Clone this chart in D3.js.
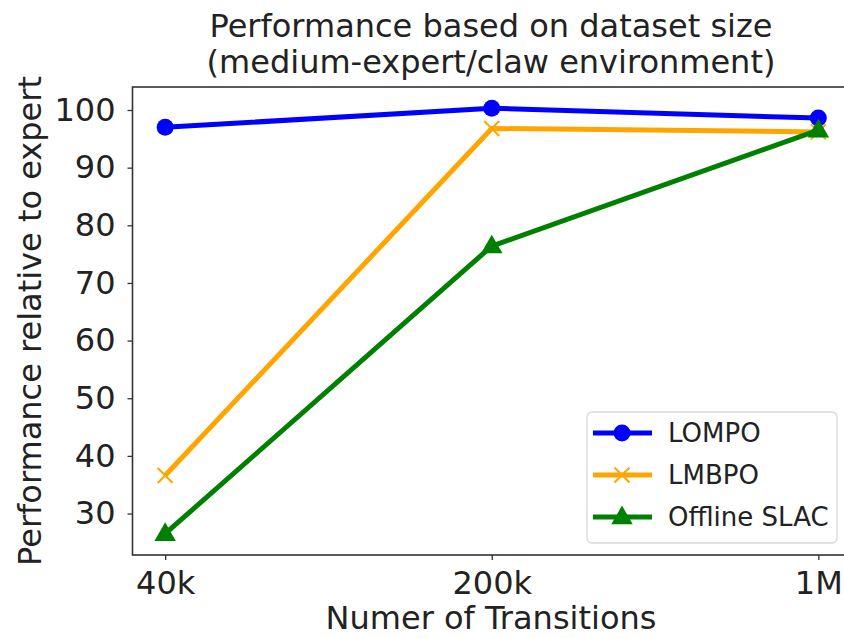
<!DOCTYPE html>
<html>
<head>
<meta charset="utf-8">
<script src="https://cdn.jsdelivr.net/npm/d3@7"></script>
<style>
  body { margin: 0; background: #fff; }
  text { font-family: "DejaVu Sans", sans-serif; fill: #222; }
</style>
</head>
<body>
<svg id="chart" width="844" height="638"></svg>
<script>
var categories = ['40k', '200k', '1M'];
var lompo = [97.0, 100.3, 98.6];
var lmbpo = [36.6, 96.8, 96.2];
var slac = [26.5, 76.4, 96.5];
var seriesNames = ['LOMPO', 'LMBPO', 'Offline SLAC'];
var yTicks = [30, 40, 50, 60, 70, 80, 90, 100];

var series = [
    { name: seriesNames[0], values: lompo, color: '#0000ff', marker: 'circle' },
    { name: seriesNames[1], values: lmbpo, color: '#ffa500', marker: 'x' },
    { name: seriesNames[2], values: slac, color: '#008000', marker: 'triangle' }
];

// plot box (right spine falls just outside the picture, as in the original)
var box = { left: 132.5, right: 851, top: 87, bottom: 555 };
var svg = d3.select('#chart');

// matplotlib style autoscale, 5% margins
var all = lompo.concat(lmbpo, slac);
var lo = d3.min(all), hi = d3.max(all), pad = (hi - lo) * 0.05;

var x = d3.scaleLinear().domain([-0.1, categories.length - 0.9]).range([box.left, box.right]);
var y = d3.scaleLinear().domain([lo - pad, hi + pad]).range([box.bottom, box.top]);

// axes
var xAxis = d3.axisBottom(x).tickValues(d3.range(categories.length))
    .tickFormat(function(i) { return categories[i]; }).tickSizeOuter(0).tickSize(5).tickPadding(8);
var yAxis = d3.axisLeft(y).tickValues(yTicks).tickSizeOuter(0).tickSize(5).tickPadding(12);

var gx = svg.append('g').attr('transform', 'translate(0,' + box.bottom + ')').call(xAxis);
var gy = svg.append('g').attr('transform', 'translate(' + box.left + ',0)').call(yAxis);
[gx, gy].forEach(function(g) {
    g.select('.domain').remove();
    g.selectAll('line').attr('stroke', '#333').attr('stroke-width', 1.3);
    g.selectAll('text').style('font-size', '32px').attr('fill', '#222');
});
gx.selectAll('text').attr('y', 39).attr('dy', 0);

// spines
svg.append('rect')
    .attr('x', box.left).attr('y', box.top)
    .attr('width', box.right - box.left).attr('height', box.bottom - box.top)
    .attr('fill', 'none').attr('stroke', '#333').attr('stroke-width', 1.6);

// labels
svg.append('text').attr('x', 491).attr('y', 37).attr('text-anchor', 'middle')
    .style('font-size', '32px').text('Performance based on dataset size');
svg.append('text').attr('x', 491).attr('y', 73).attr('text-anchor', 'middle')
    .style('font-size', '32px').text('(medium-expert/claw environment)');
svg.append('text').attr('x', 491).attr('y', 629).attr('text-anchor', 'middle')
    .style('font-size', '32px').text('Numer of Transitions');
svg.append('text').attr('transform', 'translate(41,' + ((box.top + box.bottom) / 2) + ') rotate(-90)')
    .attr('text-anchor', 'middle').style('font-size', '32px').text('Performance relative to expert');

function drawMarker(g, type, color, cx, cy) {
    if (type == 'circle')
        g.append('circle').attr('cx', cx).attr('cy', cy).attr('r', 8.5).attr('fill', color);
    else if (type == 'triangle')
        g.append('path').attr('d', d3.symbol().type(d3.symbolTriangle).size(200)())
            .attr('transform', 'translate(' + cx + ',' + (cy + 1) + ')').attr('fill', color);
    else {
        var s = 7.5;
        g.append('path').attr('d', 'M' + (cx - s) + ',' + (cy - s) + 'L' + (cx + s) + ',' + (cy + s) +
            'M' + (cx - s) + ',' + (cy + s) + 'L' + (cx + s) + ',' + (cy - s))
            .attr('stroke', color).attr('stroke-width', 2).attr('fill', 'none');
    }
}

var line = d3.line().x(function(d, i) { return x(i); }).y(function(d) { return y(d); });

series.forEach(function(s) {
    var g = svg.append('g');
    g.append('path').datum(s.values).attr('d', line)
        .attr('fill', 'none').attr('stroke', s.color).attr('stroke-width', 5)
        .attr('stroke-linejoin', 'round');
    s.values.forEach(function(v, i) { drawMarker(g, s.marker, s.color, x(i), y(v)); });
});

// legend
var lg = svg.append('g');
lg.append('rect').attr('x', 587).attr('y', 412).attr('width', 250).attr('height', 131)
    .attr('rx', 5).attr('fill', '#fff').attr('fill-opacity', 0.8)
    .attr('stroke', '#d8d8d8').attr('stroke-width', 1.3);
series.forEach(function(s, i) {
    var cy = 433 + i * 42;
    lg.append('line').attr('x1', 593).attr('x2', 652).attr('y1', cy).attr('y2', cy)
        .attr('stroke', s.color).attr('stroke-width', 5);
    drawMarker(lg, s.marker, s.color, 622, cy);
    lg.append('text').attr('x', 668).attr('y', cy).attr('dy', '0.35em')
        .style('font-size', '26px').text(s.name);
});
</script>
</body>
</html>
